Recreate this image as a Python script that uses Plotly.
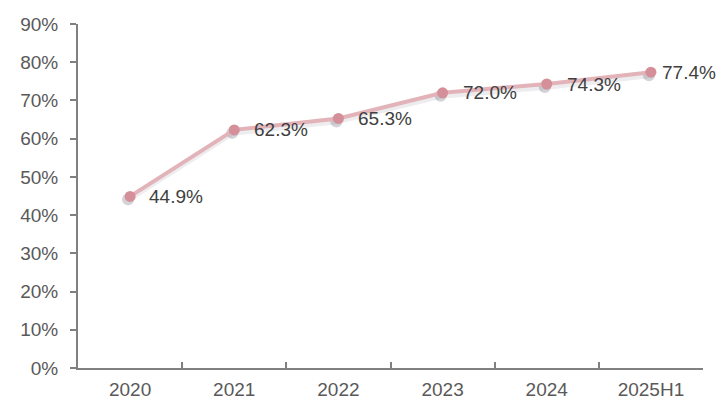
import plotly.graph_objects as go

categories = ["2020", "2021", "2022", "2023", "2024", "2025H1"]
values = [44.9, 62.3, 65.3, 72.0, 74.3, 77.4]
labels = ["44.9%", "62.3%", "65.3%", "72.0%", "74.3%", "77.4%"]
label_shift = [17, 18, 18, 18, 18, 9]
y_ticks = [0, 10, 20, 30, 40, 50, 60, 70, 80, 90]
y_tick_labels = ["0%", "10%", "20%", "30%", "40%", "50%", "60%", "70%", "80%", "90%"]

W, H = 718, 415
sx, sy = 2, 3  # shadow offset (px): left and down
ml, mr, mt, mb = 78 - sx, 15, 24, 47 - sy
pw, ph = W - ml - mr, H - mt - mb
ex, ey = sx / pw, sy / ph

fig = go.Figure()
# soft shadow on hidden base axes, slightly offset
fig.add_trace(go.Scatter(
    x=categories, y=values,
    mode="lines+markers",
    line=dict(color="rgba(110,110,120,0.12)", width=6),
    marker=dict(color="rgba(80,80,100,0.25)", size=12),
    hoverinfo="skip", showlegend=False,
))
# main series on visible axes
fig.add_trace(go.Scatter(
    x=categories, y=values, xaxis="x2", yaxis="y2",
    mode="lines+markers",
    line=dict(color="#e3b3ba", width=4),
    marker=dict(color="#d48f99", size=11),
    cliponaxis=False,
    showlegend=False,
))
for i, (v, t, s) in enumerate(zip(values, labels, label_shift)):
    fig.add_annotation(
        x=i, y=v, xref="x2", yref="y2", text=t, showarrow=False,
        xanchor="left", yanchor="middle", xshift=s,
        font=dict(family="Liberation Sans, Arial", size=19, color="#404040"),
    )

axis_font = dict(family="Liberation Sans, Arial", size=19, color="#595959")
fig.update_layout(
    width=W, height=H,
    margin=dict(l=ml, r=mr, t=mt, b=mb),
    paper_bgcolor="white", plot_bgcolor="rgba(0,0,0,0)",
    xaxis=dict(
        type="category", range=[-0.5, 5.5], domain=[0, 1 - ex], anchor="y",
        visible=False,
    ),
    yaxis=dict(
        range=[0, 90], domain=[0, 1 - ey], anchor="x",
        visible=False,
    ),
    xaxis2=dict(
        type="category", range=[-0.5, 5.5], domain=[ex, 1], anchor="y2",
        showline=True, linecolor="#808080", linewidth=2,
        tickson="boundaries", ticks="inside", ticklen=6, tickcolor="#808080", tickwidth=1.5,
        showgrid=False, tickfont=axis_font, ticklabelstandoff=3,
    ),
    yaxis2=dict(
        range=[0, 90], tickvals=y_ticks, ticktext=y_tick_labels, domain=[ey, 1],
        anchor="x2",
        showline=True, linecolor="#808080", linewidth=2,
        ticks="outside", ticklen=6, tickcolor="#808080", tickwidth=1.5,
        showgrid=False, zeroline=False, tickfont=axis_font, ticklabelstandoff=8,
    ),
)
fig.write_html("out.html")
